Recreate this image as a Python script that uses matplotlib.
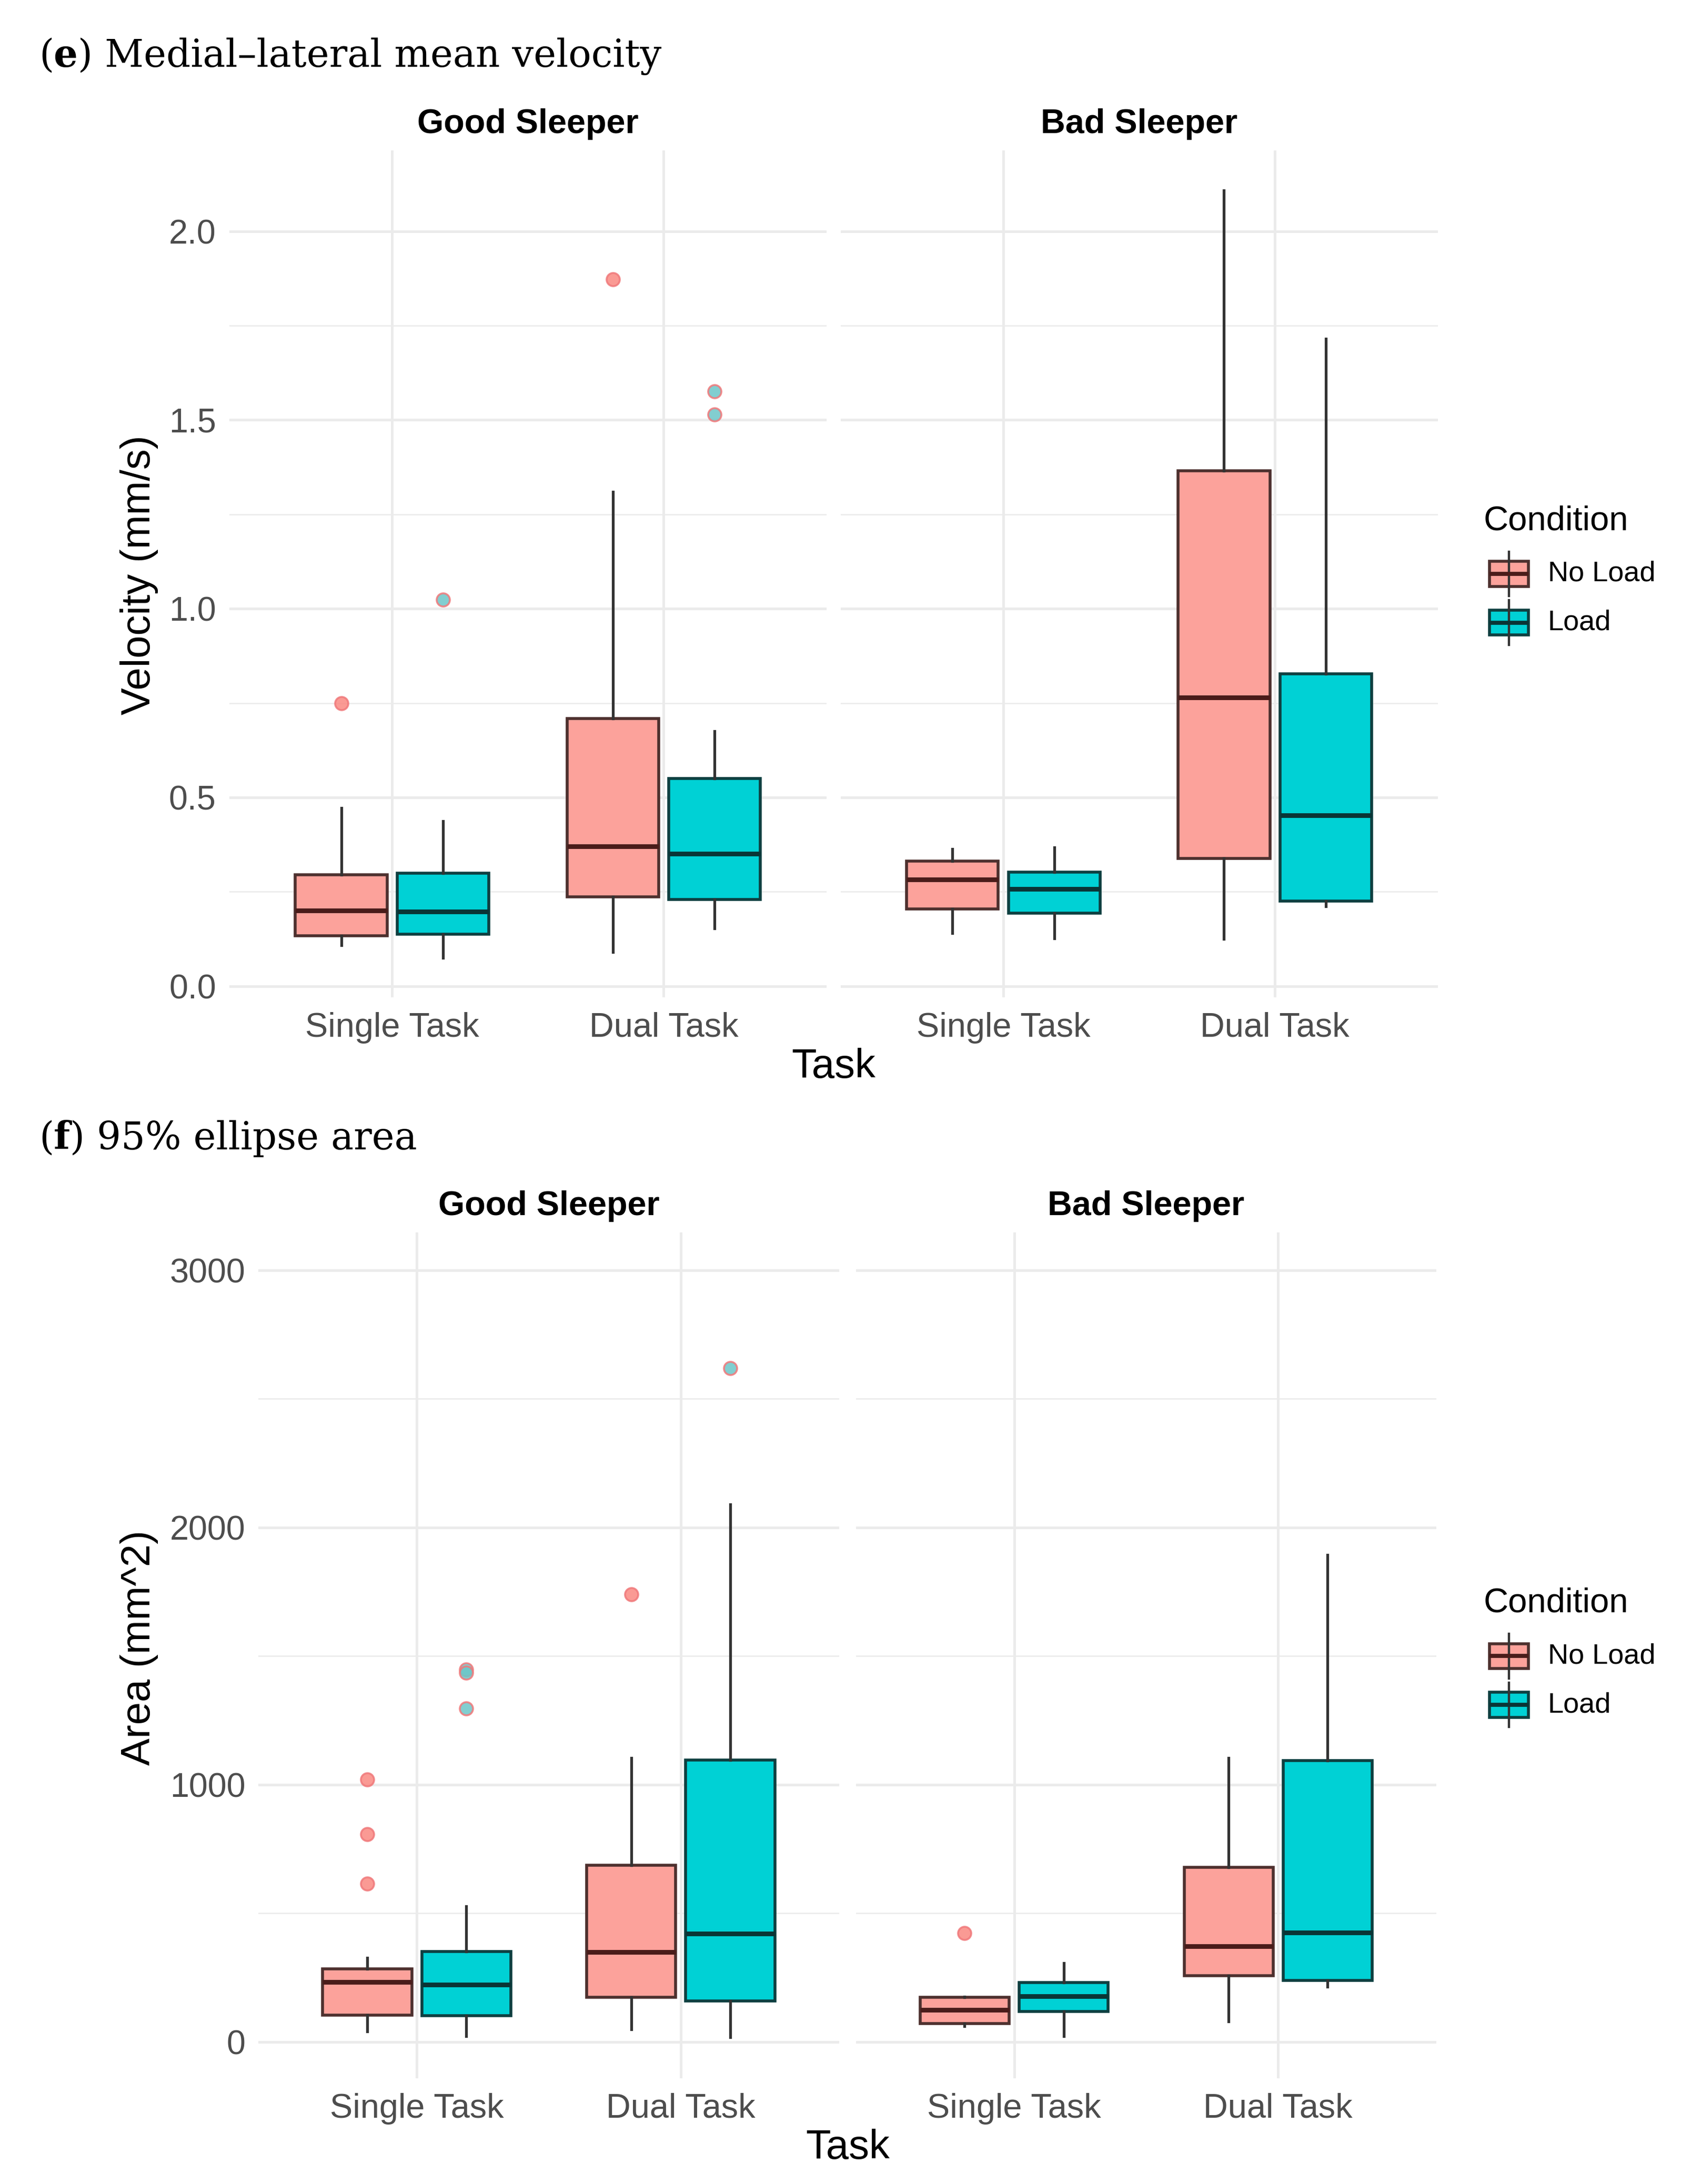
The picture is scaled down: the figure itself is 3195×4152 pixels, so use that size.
import numpy as np
import matplotlib
matplotlib.use("Agg")
from matplotlib import pyplot as plt
from matplotlib.patches import Rectangle
from matplotlib.lines import Line2D

# categories
tasks = ["Single Task", "Dual Task"]
sleepers = ["Good Sleeper", "Bad Sleeper"]
conditions = ["No Load", "Load"]

# box summaries per task: [lower whisker, Q1, median, Q3, upper whisker]
vel_good_noload = [[0.108, 0.134, 0.200, 0.295, 0.472], [0.090, 0.237, 0.371, 0.709, 1.310]]
vel_good_load = [[0.075, 0.138, 0.198, 0.299, 0.437], [0.153, 0.229, 0.351, 0.550, 0.675]]
vel_bad_noload = [[0.140, 0.205, 0.282, 0.332, 0.364], [0.125, 0.338, 0.765, 1.366, 2.108]]
vel_bad_load = [[0.127, 0.194, 0.257, 0.302, 0.368], [0.211, 0.226, 0.453, 0.828, 1.715]]
# outliers per task
vel_good_noload_out = [[0.750], [1.873]]
vel_good_load_out = [[1.024], [1.576, 1.515]]
vel_bad_noload_out = [[], []]
vel_bad_load_out = [[], []]

area_good_noload = [[41, 104, 233, 283, 327], [49, 173, 349, 686, 1104]]
area_good_load = [[22, 102, 222, 351, 527], [19, 159, 420, 1095, 2089]]
area_bad_noload = [[60, 71, 124, 173, 175], [80, 258, 371, 678, 1104]]
area_bad_load = [[22, 118, 178, 231, 307], [214, 239, 425, 1093, 1894]]
area_good_noload_out = [[1021, 807, 615], [1740]]
area_good_load_out = [[1447, 1436, 1296], [2619]]
area_bad_noload_out = [[423], []]
area_bad_load_out = [[], []]

vel_ticks = [0.0, 0.5, 1.0, 1.5, 2.0]
area_ticks = [0, 1000, 2000, 3000]

fill = {"No Load": "#FCA29B", "Load": "#00D1D5"}
edge = {"No Load": "#4D302E", "Load": "#0E3F40"}
mid = {"No Load": "#4A1C1A", "Load": "#0A3536"}
pt_face = {"No Load": "#FA8882", "Load": "#6CC6C8"}

SANS = "Liberation Sans"
SERIF = "DejaVu Serif"
W, H = 1210.0, 1568.0  # layout measured on a reduced copy of the figure


def fx(x):
    return x / W


def fy(y):
    return 1 - y / H


fig = plt.figure(figsize=(3195 / 200, 4152 / 200), dpi=200)


def stats(five, out):
    lo, q1, med, q3, hi = five
    return dict(whislo=lo, q1=q1, med=med, q3=q3, whishi=hi, fliers=out)


def panel(left, right, top, bottom, ylim, ticks, minor, labels):
    ax = fig.add_axes([fx(left), fy(bottom), fx(right) - fx(left), fy(top) - fy(bottom)])
    ax.set_xlim(0.4, 2.6)
    ax.set_ylim(*ylim)
    for s in ax.spines.values():
        s.set_visible(False)
    ax.set_xticks([1, 2])
    ax.set_xticklabels(tasks)
    ax.set_yticks(ticks)
    ax.set_yticks(minor, minor=True)
    if labels is None:
        ax.set_yticklabels([])
    else:
        ax.set_yticklabels(labels)
    ax.grid(which="major", color="#EBEBEB", lw=1.8)
    ax.grid(which="minor", axis="y", color="#EBEBEB", lw=0.9)
    ax.set_axisbelow(True)
    ax.tick_params(which="both", length=0, labelsize=23.3, labelcolor="#4D4D4D")
    ax.tick_params(axis="x", pad=10)
    ax.tick_params(axis="y", pad=9)
    for lab in ax.get_xticklabels() + ax.get_yticklabels():
        lab.set_family(SANS)
    return ax


def boxes(ax, noload, load, noload_out, load_out):
    for cond, five, out, off in [("No Load", noload, noload_out, -0.1875),
                                 ("Load", load, load_out, 0.1875)]:
        st = [stats(five[i], out[i]) for i in range(2)]
        ax.bxp(st, positions=[1 + off, 2 + off], widths=0.3375, patch_artist=True,
               showcaps=False, manage_ticks=False,
               boxprops=dict(facecolor=fill[cond], edgecolor=edge[cond], linewidth=2.0),
               whiskerprops=dict(color="#333333", linewidth=1.9),
               medianprops=dict(color=mid[cond], linewidth=3.2, solid_capstyle="butt"),
               flierprops=dict(marker="o", markerfacecolor=pt_face[cond],
                               markeredgecolor="#F0787A", markeredgewidth=1.3,
                               markersize=9, alpha=0.85))


def legend(y_title, y_rows):
    fig.text(fx(1068), fy(y_title), "Condition", family=SANS, size=23.5,
             ha="left", va="center")
    for cond, yr in zip(conditions, y_rows):
        fig.add_artist(Line2D([fx(1086), fx(1086)], [fy(yr - 16), fy(yr + 16)],
                              color="#333333", lw=1.6, transform=fig.transFigure))
        fig.add_artist(Rectangle((fx(1072), fy(yr + 9)), fx(1100) - fx(1072),
                                 fy(yr - 9) - fy(yr + 9), facecolor=fill[cond],
                                 edgecolor=edge[cond], lw=2.0, transform=fig.transFigure))
        fig.add_artist(Line2D([fx(1072), fx(1100)], [fy(yr), fy(yr)], color=mid[cond],
                              lw=2.8, solid_capstyle="butt", transform=fig.transFigure))
        fig.text(fx(1114), fy(yr), cond, family=SANS, size=19.5, ha="left", va="center")


# ---- (e) medial-lateral mean velocity ----
vel_lim = (-0.0295, 2.214)
vel_minor = [0.25, 0.75, 1.25, 1.75]
ax_e1 = panel(165, 595, 108, 716, vel_lim, vel_ticks, vel_minor, [f"{v:.1f}" for v in vel_ticks])
ax_e2 = panel(605, 1035, 108, 716, vel_lim, vel_ticks, vel_minor, None)
boxes(ax_e1, vel_good_noload, vel_good_load, vel_good_noload_out, vel_good_load_out)
boxes(ax_e2, vel_bad_noload, vel_bad_load, vel_bad_noload_out, vel_bad_load_out)

# ---- (f) 95% ellipse area ----
area_lim = (-141, 3146)
area_minor = [500, 1500, 2500]
ax_f1 = panel(186, 604, 885, 1492, area_lim, area_ticks, area_minor, [str(v) for v in area_ticks])
ax_f2 = panel(616, 1034, 885, 1492, area_lim, area_ticks, area_minor, None)
boxes(ax_f1, area_good_noload, area_good_load, area_good_noload_out, area_good_load_out)
boxes(ax_f2, area_bad_noload, area_bad_load, area_bad_noload_out, area_bad_load_out)

# strip titles, centred just above each panel
for ax, name in [(ax_e1, sleepers[0]), (ax_e2, sleepers[1]),
                 (ax_f1, sleepers[0]), (ax_f2, sleepers[1])]:
    ax.text(0.5, 1 + 19 / 608, name, transform=ax.transAxes, ha="center", va="center",
            family=SANS, weight="bold", size=23.3)

# axis titles
fig.text(fx(600), fy(766), "Task", family=SANS, size=28, ha="center", va="center")
fig.text(fx(610), fy(1542), "Task", family=SANS, size=28, ha="center", va="center")
fig.text(fx(100), fy(413), "Velocity (mm/s)", family=SANS, size=28, rotation=90,
         ha="center", va="center")
fig.text(fx(100), fy(1183), "Area (mm^2)", family=SANS, size=28, rotation=90,
         ha="center", va="center")

legend(374, [412, 447])
legend(1151, [1189, 1224])

# panel headings, "(e)" / "(f)" with bold letter
r = fig.canvas.get_renderer()
for y, letter, rest in [(48, "e", ") Medial\u2013lateral mean velocity"),
                        (825, "f", ") 95% ellipse area")]:
    t1 = fig.text(fx(28), fy(y), "(", family=SERIF, size=26, ha="left", va="baseline")
    t2 = fig.text(0, fy(y), letter, family=SERIF, size=26, weight="bold",
                  ha="left", va="baseline")
    t3 = fig.text(0, fy(y), rest, family=SERIF, size=26, ha="left", va="baseline")
    t2.set_x(t1.get_window_extent(r).x1 / fig.bbox.width)
    t3.set_x(t2.get_window_extent(r).x1 / fig.bbox.width)

fig.savefig("out.png", dpi=200, facecolor="white")
